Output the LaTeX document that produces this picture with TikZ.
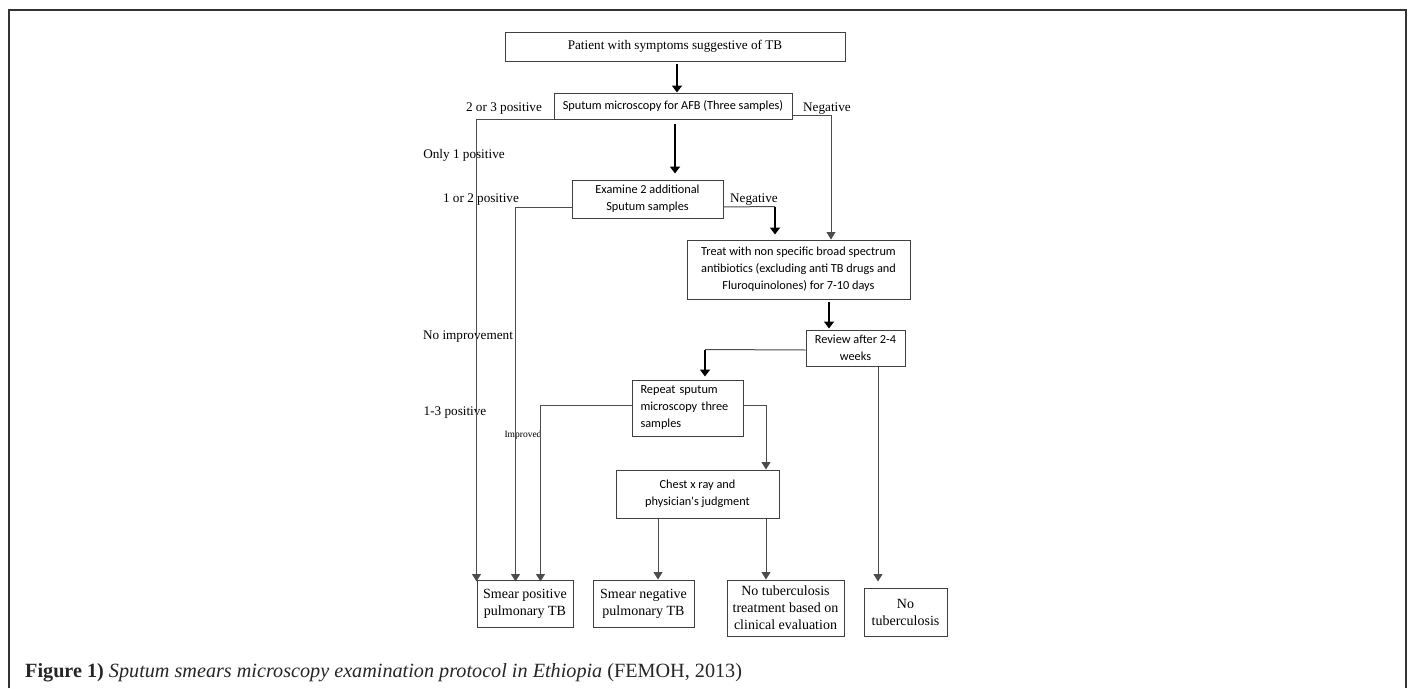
\documentclass[tikz,border=0pt]{standalone}
\usepackage{fontspec}
\setmainfont{Liberation Serif}
\newfontfamily\calib{Carlito}
\usetikzlibrary{arrows.meta}
\begin{document}
\begin{tikzpicture}[x=1pt,y=-1pt,
  sbox/.style={draw=black!75,line width=1pt,inner sep=0pt,align=center,font=\fontsize{14}{17}\selectfont},
  cbox/.style={draw=black!75,line width=1pt,inner sep=0pt,align=center,font=\calib\fontsize{12.3}{17}\selectfont},
  lbl/.style={font=\fontsize{13.2}{15}\selectfont,inner sep=0pt,yshift=-2pt},
  thin/.style={draw=black!70,line width=1pt},
  thinarr/.style={draw=black!70,line width=1pt,-{Triangle[width=9pt,length=7.5pt]}},
  thickarr/.style={draw=black,line width=2.2pt,-{Triangle[width=10pt,length=7pt]}}]
\useasboundingbox (0,0) rectangle (1413,688);
\draw[line width=2pt,black!80] (9,688) -- (9,10) -- (1406,10) -- (1406,688);
% boxes
\node[sbox,font=\fontsize{13.2}{15}\selectfont,minimum width=340pt,minimum height=29pt] (patient) at (675,46.5) {\raisebox{-1.5pt}{Patient with symptoms suggestive of TB}};
\node[cbox,minimum width=238pt,minimum height=26pt] (sputum) at (673,106) {Sputum microscopy for AFB (Three samples)};
\node[cbox,minimum width=151pt,minimum height=38pt] (examine) at (647.5,199) {Examine 2 additional\\Sputum samples};
\node[cbox,minimum width=223pt,minimum height=59pt] (treat) at (798.5,269.5) {Treat with non specific broad spectrum\\antibiotics (excluding anti TB drugs and\\Fluroquinolones) for 7-10 days};
\node[cbox,minimum width=99pt,minimum height=36pt] (review) at (855.5,348) {Review after 2-4\\weeks};
\node[cbox,align=left,text width=94pt,inner xsep=8.5pt,minimum height=56pt] (repeat) at (687.5,408) {Repeat sputum\\microscopy three\\samples};
\node[cbox,minimum width=163pt,minimum height=48pt] (chest) at (697.5,494) {Chest x ray and\\physician's judgment};
\node[sbox,minimum width=96pt,minimum height=47pt] (smpos) at (525,603.5) {Smear positive\\pulmonary TB};
\node[sbox,minimum width=101pt,minimum height=47pt] (smneg) at (643.5,603.5) {Smear negative\\pulmonary TB};
\node[sbox,minimum width=117pt,minimum height=56pt] (noclin) at (785.5,608) {No tuberculosis\\treatment based on\\clinical evaluation};
\node[sbox,minimum width=83pt,minimum height=48pt] (notb) at (905.5,612) {No\\tuberculosis};
% labels
\node[lbl] (l23) at (504,107) {2 or 3 positive};
\node[lbl] (lneg1) at (827,107) {Negative};
\node[lbl] (lonly) at (464,153) {Only 1 positive};
\node[lbl] (l12) at (481,198) {1 or 2 positive};
\node[lbl] (lneg2) at (754,198) {Negative};
\node[lbl] (lnoimp) at (468,335) {No improvement};
\node[lbl] (l13) at (455,411) {1-3 positive};
\node[lbl,font=\fontsize{9.5}{10}\selectfont] (limp) at (523,433) {Improved};
% connectors
\draw[thickarr] ([xshift=2pt,yshift=-2pt]patient.south) -- ([xshift=4pt]sputum.north);
\draw[thickarr] ([xshift=2pt,yshift=-4pt]sputum.south) -- ([xshift=2pt,yshift=6pt]sputum.south |- examine.north);
\draw[thinarr] (sputum.south west) -| ([yshift=-2pt]smpos.north west);
\draw[thinarr] ([yshift=4pt]sputum.south east) -| ([xshift=32.5pt]treat.north);
\draw[thinarr] ([yshift=-8pt]examine.west) -| ([xshift=39pt,yshift=-2pt]smpos.north west);
\coordinate (negturn) at ([xshift=-23.5pt,yshift=33pt]treat.north);
\draw[thin] ([yshift=-8pt]examine.east) -- (negturn);
\draw[thickarr] (negturn) -- ([xshift=-23.5pt,yshift=5pt]treat.north);
\draw[thickarr] ([xshift=30.5pt,yshift=-2pt]treat.south) -- ([xshift=30.5pt,yshift=1pt]treat.south |- review.north);
\coordinate (revturn) at ([xshift=17.5pt,yshift=30pt]repeat.north);
\draw[thin] ([yshift=-2pt]review.west) -- (revturn);
\draw[thickarr] (revturn) -- ([xshift=17.5pt,yshift=3pt]repeat.north);
\draw[thinarr] ([yshift=3pt]repeat.west) -| ([xshift=64pt,yshift=-2pt]smpos.north west);
\draw[thinarr] ([yshift=3pt]repeat.east) -| ([xshift=68.5pt]chest.north);
\draw[thinarr] ([xshift=-39.5pt]chest.south) -- ([xshift=-39.5pt]chest.south |- smneg.north);
\draw[thinarr] ([xshift=68.5pt]chest.south) -- ([xshift=68.5pt]chest.south |- noclin.north);
\draw[thinarr] ([xshift=22.5pt]review.south) -- ([xshift=22.5pt,yshift=6pt]review.south |- notb.north);
% caption
\node[anchor=base west,inner sep=0pt,text=black!85,font=\fontsize{20.2}{22}\selectfont] (caption) at (25,677) {\textbf{Figure 1)} \textit{Sputum smears microscopy examination protocol in Ethiopia} (FEMOH, 2013)};
\end{tikzpicture}
\end{document}
